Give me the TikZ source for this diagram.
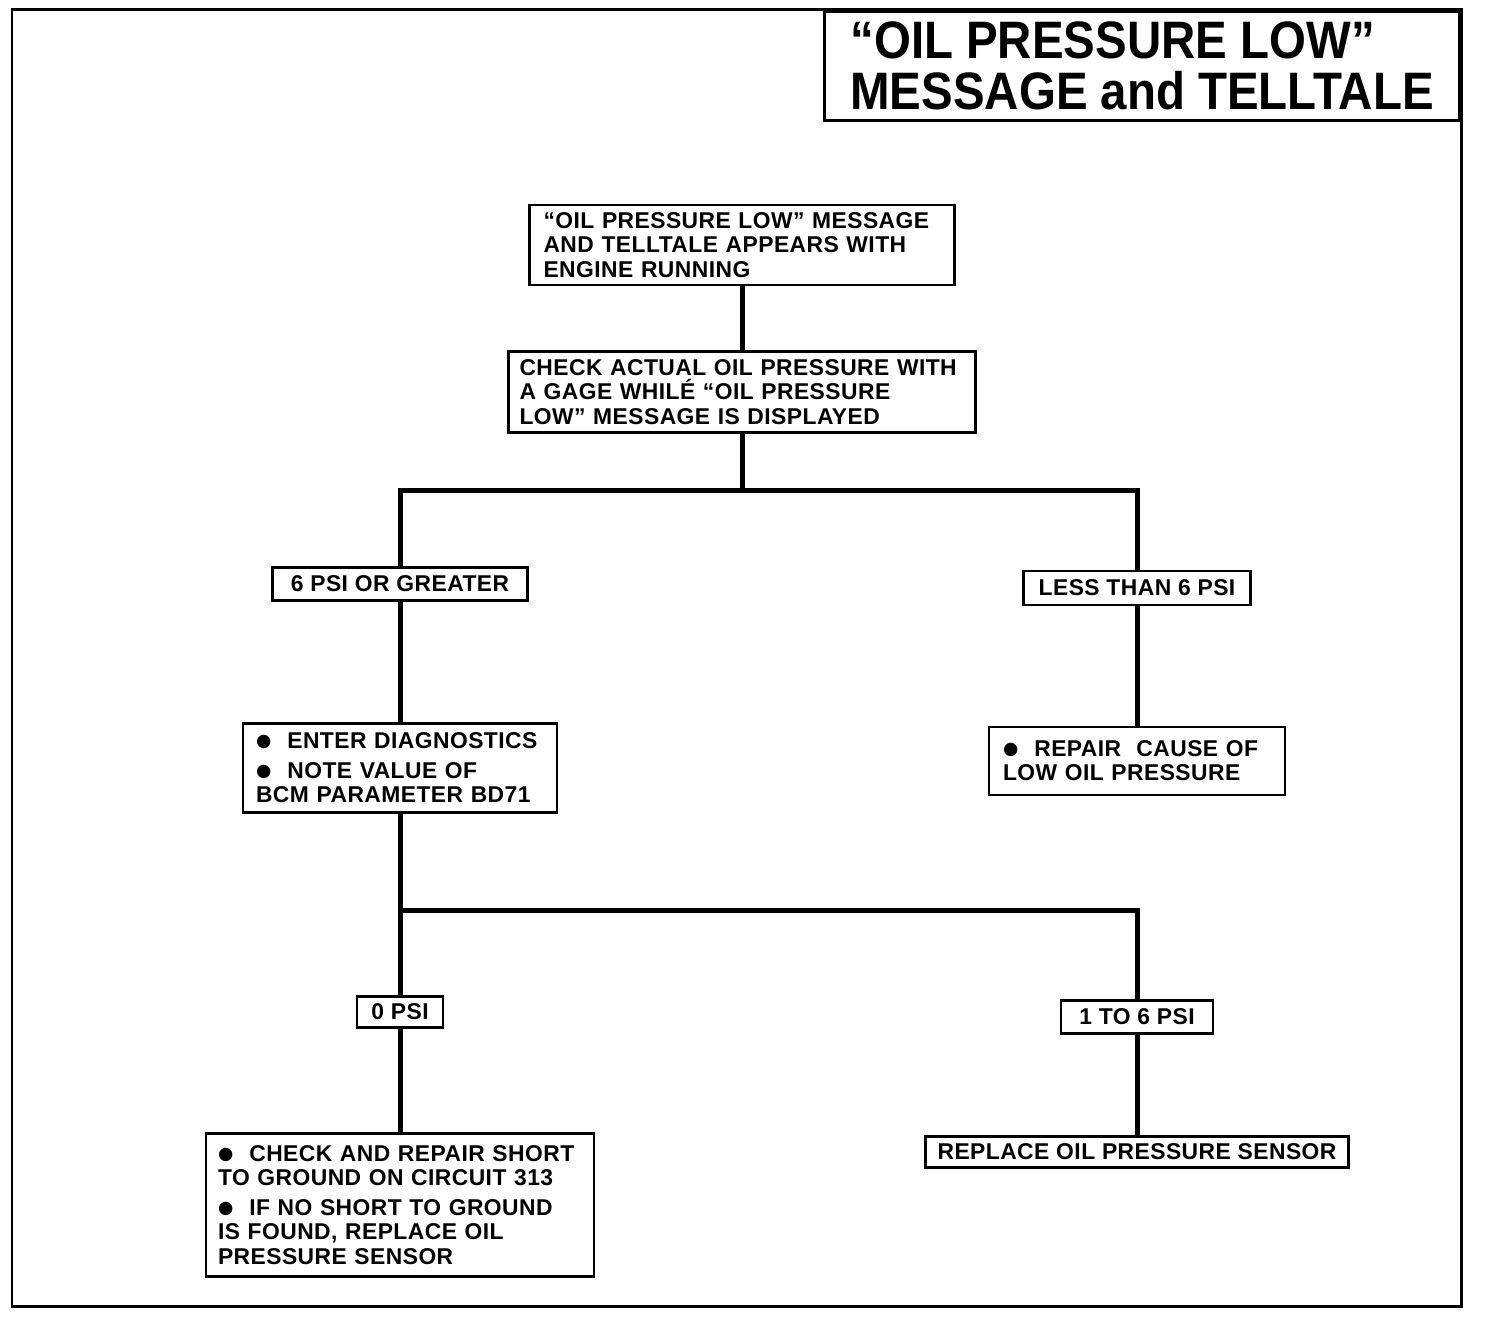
\documentclass[tikz,border=0pt]{standalone}
\usepackage{fontspec}
\setmainfont[LetterSpace=2]{Liberation Sans}
\newfontfamily\headfont[FakeStretch=0.9]{Liberation Sans}
\newfontfamily\dotfont{DejaVu Sans}
\usetikzlibrary{positioning}
\newcommand{\blt}{\raisebox{1.2pt}{\dotfont\fontsize{10}{10}\selectfont ●}\hspace{0.7em}}
\tikzset{
  frameline/.style = {line width=0.06cm},
  stepbox/.style   = {draw, line width=0.05cm, align=left, inner xsep=0.28cm,
                      inner ysep=0.1cm, font=\fontsize{13}{13.8}\selectfont\bfseries},
  tagbox/.style    = {stepbox, align=center, inner xsep=0.2cm},
  titlebox/.style  = {draw, line width=0.06cm, align=left,
                      font=\headfont\bfseries\fontsize{30}{29}\selectfont},
  link/.style      = {line width=0.1cm},
}

\begin{document}
\begin{tikzpicture}[x=0.02cm, y=-0.02cm]
  \useasboundingbox (0,0) rectangle (1504,1318);
  \draw[frameline] (12,10) rectangle (1461,1306);
  \node[titlebox, anchor=north east, minimum width=12.7cm, minimum height=2.18cm] (ttl) at (1461,10)
    {“OIL PRESSURE LOW”\\MESSAGE and TELLTALE};

  % top of the chart
  \node[stepbox, text width=7.94cm, minimum height=1.6cm] (msg) at (742,245)
    {“OIL PRESSURE LOW” MESSAGE\\AND TELLTALE APPEARS WITH\\ENGINE RUNNING};
  \node[stepbox, inner xsep=0.22cm, text width=8.9cm, minimum height=1.62cm] (chk) at (742,392)
    {CHECK ACTUAL OIL PRESSURE WITH\\A GAGE WHILÉ “OIL PRESSURE\\LOW” MESSAGE IS DISPLAYED};
  \coordinate (fork1) at (742,490);

  % first split
  \node[tagbox, minimum width=5.1cm, minimum height=0.66cm] (ge) at (400,584) {6 PSI OR GREATER};
  \node[tagbox, minimum width=4.54cm, minimum height=0.68cm] (lt) at (1137,588) {LESS THAN 6 PSI};
  \node[stepbox, inner xsep=0.26cm, text width=5.76cm, minimum height=1.78cm] (diag) at (400,768)
    {\blt ENTER DIAGNOSTICS\\[3pt]\blt NOTE VALUE OF\\BCM PARAMETER BD71};
  \node[stepbox, text width=5.36cm, minimum height=1.36cm] (rep) at (1137,761)
    {\blt REPAIR~~CAUSE OF\\LOW OIL PRESSURE};
  \coordinate (fork2) at (400,910);

  % second split
  \node[tagbox, minimum width=1.72cm, minimum height=0.62cm] (zero) at (400,1012) {0 PSI};
  \node[tagbox, minimum width=3.04cm, minimum height=0.66cm] (onesix) at (1137,1017) {1 TO 6 PSI};
  \node[stepbox, inner xsep=0.24cm, text width=7.28cm, minimum height=2.86cm] (fix) at (400,1205)
    {\blt CHECK AND REPAIR SHORT\\TO GROUND ON CIRCUIT 313\\[3pt]\blt IF NO SHORT TO GROUND\\IS FOUND, REPLACE OIL\\PRESSURE SENSOR};
  \node[tagbox, minimum width=8.46cm, minimum height=0.62cm] (rpl) at (1137,1152) {REPLACE OIL PRESSURE SENSOR};

  \draw[link] (msg) -- (chk);
  \draw[link] (chk) -- (fork1);
  \draw[link] (ge) |- (fork1) -| (lt);
  \draw[link] (ge) -- (diag);
  \draw[link] (lt) -- (rep);
  \draw[link] (diag) -- (zero);
  \draw[link] (fork2) -| (onesix);
  \draw[link] (zero) -- (fix);
  \draw[link] (onesix) -- (rpl);
\end{tikzpicture}
\end{document}
